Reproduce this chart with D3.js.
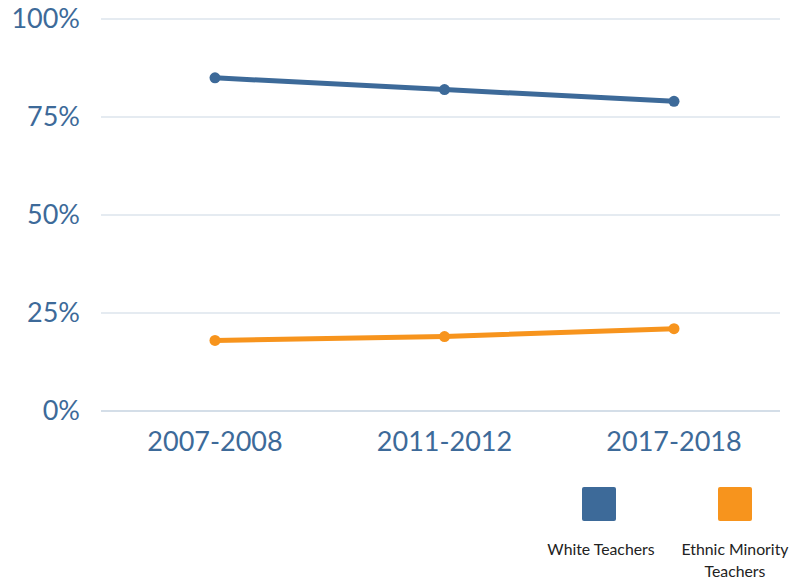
<!DOCTYPE html>
<html><head><meta charset="utf-8">
<script src="https://cdn.jsdelivr.net/npm/d3@7"></script>
<style>body{margin:0;background:#fff}svg{display:block}</style>
</head><body>
<svg id="c" width="792" height="582"></svg>
<script>
const categories = ["2007-2008", "2011-2012", "2017-2018"];
const whiteTeachers = [85, 82, 79];
const minorityTeachers = [18, 19, 21];
const yTicks = [0, 25, 50, 75, 100];
const seriesNames = ["White Teachers", "Ethnic Minority Teachers"];
const seriesColors = ["#3d6a99", "#f7941d"];

const svg = d3.select("#c");
const font = "Lato, 'Open Sans', sans-serif";
const x = d3.scalePoint().domain(categories).range([215, 674]);
const y = d3.scaleLinear().domain([0, 100]).range([411, 19]);

// gridlines
svg.append("g").selectAll("line").data(yTicks).join("line")
  .attr("x1", 101).attr("x2", 780)
  .attr("y1", d => y(d)).attr("y2", d => y(d))
  .attr("stroke", d => d === 0 ? "#c6d3e1" : "#dde4ec").attr("stroke-width", 1.5);

// y labels
svg.append("g").selectAll("text").data(yTicks).join("text")
  .attr("x", 80).attr("y", d => y(d)).attr("dy", "0.35em")
  .attr("text-anchor", "end").attr("font-family", font).attr("font-size", 27)
  .attr("fill", "#3d6a99").text(d => d + "%");

// x labels
svg.append("g").selectAll("text").data(categories).join("text")
  .attr("x", d => x(d)).attr("y", 451)
  .attr("text-anchor", "middle").attr("font-family", font).attr("font-size", 27)
  .attr("fill", "#3d6a99").text(d => d);

const series = [whiteTeachers, minorityTeachers];
const line = d3.line().x((d, i) => x(categories[i])).y(d => y(d));
series.forEach((s, k) => {
  svg.append("path").datum(s).attr("d", line).attr("fill", "none")
    .attr("stroke", seriesColors[k]).attr("stroke-width", 5);
  svg.append("g").selectAll("circle").data(s).join("circle")
    .attr("cx", (d, i) => x(categories[i])).attr("cy", d => y(d)).attr("r", 5.5)
    .attr("fill", seriesColors[k]);
});

// legend
const legendX = [599, 735];
const lg = svg.append("g");
seriesNames.forEach((name, k) => {
  lg.append("rect").attr("x", legendX[k] - 17).attr("y", 487).attr("width", 34).attr("height", 34)
    .attr("rx", 2).attr("fill", seriesColors[k]);
  const lines = k === 0 ? [name] : ["Ethnic Minority", "Teachers"];
  lines.forEach((t, j) => {
    lg.append("text").attr("x", legendX[k] + (k === 0 ? 2 : 0)).attr("y", 555 + j * 22)
      .attr("text-anchor", "middle").attr("font-family", font).attr("font-size", 15.8)
      .attr("fill", "#222").text(t);
  });
});
</script>
</body></html>
